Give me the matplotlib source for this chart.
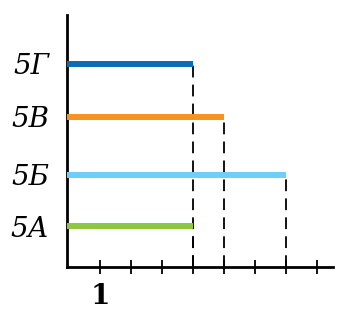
import matplotlib
matplotlib.use('Agg')
import matplotlib.pyplot as plt

# data
classes = ['5А', '5Б', '5В', '5Г']
values = [4, 7, 5, 4]
colors = ['#8dc63f', '#6dcff6', '#f7941d', '#0b6cb3']

# layout (row heights as drawn in the original, in tick units)
rows = [1.32, 2.97, 4.84, 6.55]
x_ticks = [1, 2, 3, 4, 5, 6, 7, 8]

fig = plt.figure(figsize=(3.53, 3.14), dpi=100)
ax = fig.add_axes([67 / 353, 47 / 314, 266 / 353, 252 / 314])

x0 = -2 / 31
for y, v, c in zip(rows, values, colors):
    ax.plot([x0, v], [y, y], color=c, lw=4.3, solid_capstyle='butt', zorder=3)
    ax.plot([v, v], [0, y], color='black', lw=1.3, dashes=(6.5, 4), zorder=2)

ax.set_xlim(x0, x0 + 266 / 31)
ax.set_ylim(0, 252 / 31)

for s in ['top', 'right']:
    ax.spines[s].set_visible(False)
ax.spines['left'].set_linewidth(2)
ax.spines['bottom'].set_linewidth(2)

ax.set_xticks(x_ticks)
ax.set_xticklabels([''] * len(x_ticks))
ax.tick_params(axis='x', direction='inout', length=10, width=1.3, pad=0)
ax.set_yticks(rows)
ax.set_yticklabels(classes, family='DejaVu Serif', style='italic', fontsize=20)
ax.tick_params(axis='y', length=0, pad=13)

ax.text(1, -0.5, '1', ha='center', va='top', family='DejaVu Serif',
        fontweight='bold', fontsize=20, transform=ax.transData, clip_on=False)

fig.savefig('out.png', dpi=100)
